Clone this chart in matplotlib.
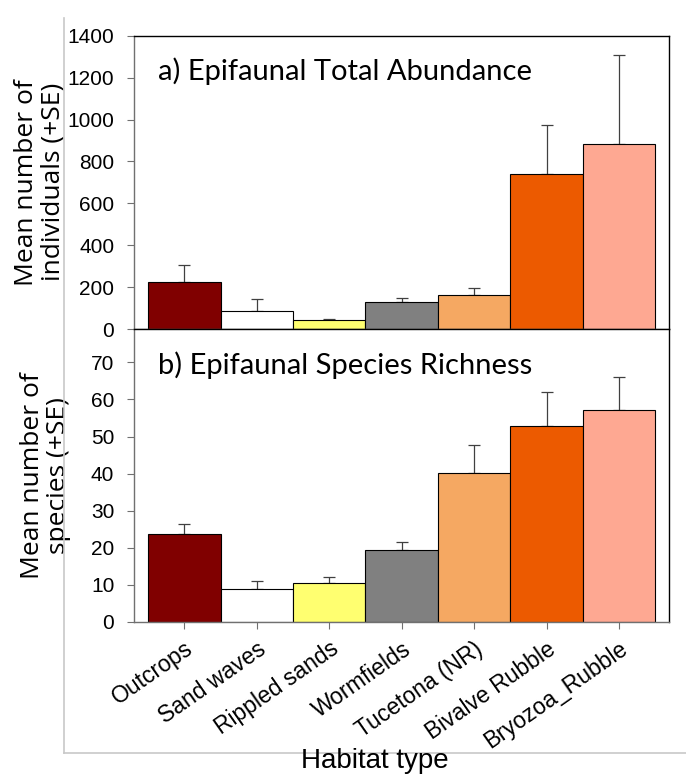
import matplotlib
matplotlib.use('Agg')
import matplotlib.pyplot as plt
from matplotlib.lines import Line2D
import numpy as np

# habitat categories and values
habitats = ['Outcrops', 'Sand waves', 'Rippled sands', 'Wormfields',
            'Tucetona (NR)', 'Bivalve Rubble', 'Bryozoa_Rubble']
abundance = [225, 85, 45, 128, 162, 738, 885]
abundance_se = [80, 58, 5, 20, 33, 237, 423]
richness = [23.8, 9.0, 10.5, 19.5, 40.2, 52.8, 57.2]
richness_se = [2.7, 2.0, 1.5, 2.0, 7.6, 9.2, 8.8]
bar_colors = ['#800000', '#ffffff', '#ffff70', '#808080',
              '#f5a862', '#ec5a00', '#fea892']

plt.rcParams['font.family'] = ['Liberation Sans', 'DejaVu Sans']

fig = plt.figure(figsize=(6.86, 7.76), dpi=100)
ax1 = fig.add_axes([0.1949, 0.576, 0.7803, 0.378])
ax2 = fig.add_axes([0.1949, 0.1985, 0.7803, 0.3775])

x = np.arange(len(habitats))


def draw_panel(ax, vals, se, ylim, ticks, title, ylab, ylab_x):
    ax.bar(x, vals, width=1.0, color=bar_colors, edgecolor='black',
           linewidth=0.8, zorder=2)
    ax.errorbar(x, vals, yerr=[np.zeros(len(vals)), se], fmt='none',
                ecolor='#404040', elinewidth=0.9, capsize=4, capthick=0.9,
                zorder=1)
    ax.set_xlim(-0.7, 6.69)
    ax.set_ylim(*ylim)
    ax.set_yticks(ticks)
    ax.set_xticks(x)
    for s in ['left', 'bottom']:
        ax.spines[s].set_color('#707070')
    for s in ['top', 'right']:
        ax.spines[s].set_color('black')
    for s in ax.spines.values():
        s.set_linewidth(1.0)
    ax.tick_params(axis='both', direction='out', length=5, color='#707070',
                   labelsize=15)
    ax.tick_params(axis='y', pad=9)
    ax.text(0.045, 0.925, title, transform=ax.transAxes, fontsize=21,
            family=['Lato', 'DejaVu Sans'], va='top', ha='left')
    ax.set_ylabel(ylab, fontsize=19, family=['Open Sans', 'DejaVu Sans'],
                  linespacing=1.05)
    ax.yaxis.set_label_coords(ylab_x, 0.5)


draw_panel(ax1, abundance, abundance_se, (0, 1400), range(0, 1401, 200),
           'a) Epifaunal Total Abundance',
           'Mean number of\nindividuals (+SE)', -0.128)
ax1.set_xticklabels([])

draw_panel(ax2, richness, richness_se, (0, 79), range(0, 71, 10),
           'b) Epifaunal Species Richness',
           'Mean number of\nspecies (+SE)', -0.118)
ax2.set_xticklabels(habitats, rotation=35, ha='right', rotation_mode='anchor',
                    fontsize=16.5)
ax2.tick_params(axis='x', pad=6)

# light frame around the plot area (left and bottom)
fig.add_artist(Line2D([64 / 686, 64 / 686], [1 - 18 / 776, 1 - 753 / 776],
                      color='#c8c8c8', lw=1.2, transform=fig.transFigure))
fig.add_artist(Line2D([64 / 686, 1.0], [1 - 753 / 776, 1 - 753 / 776],
                      color='#c8c8c8', lw=1.2, transform=fig.transFigure))

fig.text(375 / 686, 2 / 776, 'Habitat type', fontsize=20,
         ha='center', va='bottom')

fig.savefig('out.png', dpi=100)
